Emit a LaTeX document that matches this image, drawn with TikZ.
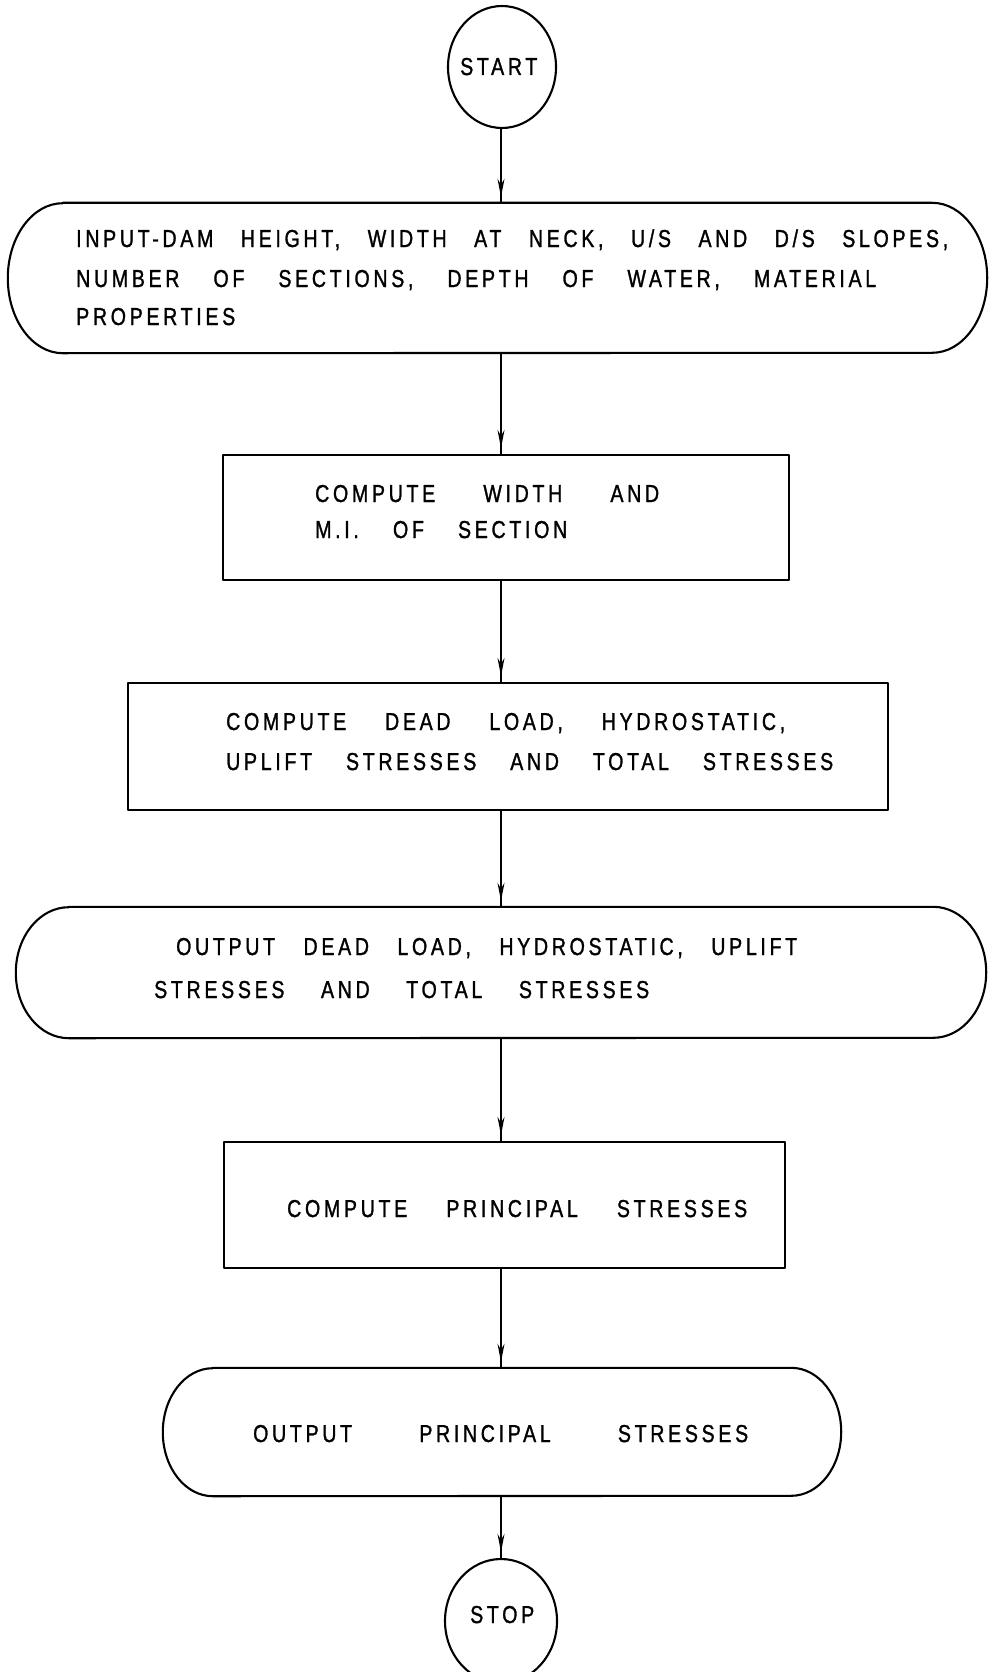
\documentclass[tikz,border=0pt]{standalone}
\usepackage{fontspec}
\setmainfont{Liberation Sans}[FakeStretch=0.8, LetterSpace=15, FakeBold=1.2]
\usetikzlibrary{shapes.geometric, arrows.meta, decorations.markings}
\newcommand\termoutline[3]{%
  \draw[outline] ([xshift=#2]#1.north west) -- ([xshift=-#2]#1.north east)
    arc[start angle=90, end angle=-90, x radius=#2, y radius=#3]
    -- ([xshift=#2]#1.south west)
    arc[start angle=270, end angle=90, x radius=#2, y radius=#3] -- cycle;}
\begin{document}
\begin{tikzpicture}[x=1pt, y=-1pt,
  lbl/.style={font=\fontsize{24.5pt}{28pt}\selectfont, inner sep=0pt, anchor=base west},
  outline/.style={line width=2.1pt, line join=round},
  flow/.style={line width=1.7pt, postaction={decorate},
    decoration={markings, mark=at position -6pt with {\arrow{Stealth[length=18pt, width=7pt]}}}},
  term/.style={draw=none, rectangle, inner sep=0pt},
  procbox/.style={draw, rectangle, outline, inner sep=0pt},
  oval/.style={draw, ellipse, outline, inner sep=0pt}]
\useasboundingbox[fill=white] (0,0) rectangle (988,1672);
\coordinate (axis) at (501,0);

% shapes
\node[oval, minimum width=108pt, minimum height=122pt] (s) at (502,67) {};
\node[term, minimum width=979pt, minimum height=150pt] (in) at (497.5,278) {};
\termoutline{in}{55pt}{75pt}
\node[procbox, minimum width=566pt, minimum height=125pt] (c1) at (506,517.5) {};
\node[procbox, minimum width=760pt, minimum height=127pt] (c2) at (508,746.5) {};
\node[term, minimum width=970pt, minimum height=131pt] (o1) at (501,972.5) {};
\termoutline{o1}{53pt}{65.5pt}
\node[procbox, minimum width=561pt, minimum height=126pt] (c3) at (504.5,1205) {};
\node[term, minimum width=678pt, minimum height=128pt] (o2) at (502,1432) {};
\termoutline{o2}{50pt}{64pt}
\node[oval, minimum width=112pt, minimum height=124pt] (e) at (501,1621) {};

% texts
\node[lbl] (s-t) at (460,75) {START};
\node[lbl] (in-t1) at (76,247) {\makebox[872pt][s]{INPUT-DAM HEIGHT, WIDTH AT NECK, U/S AND D/S SLOPES,}};
\node[lbl] (in-t2) at (76,287) {\makebox[800pt][s]{NUMBER OF SECTIONS, DEPTH OF WATER, MATERIAL}};
\node[lbl] (in-t3) at (76,325) {PROPERTIES};
\node[lbl] (c1-t1) at (315,502) {\makebox[344pt][s]{COMPUTE WIDTH AND}};
\node[lbl] (c1-t2) at (315,538) {\makebox[252pt][s]{M.I. OF SECTION}};
\node[lbl] (c2-t1) at (226,730) {\makebox[559pt][s]{COMPUTE DEAD LOAD, HYDROSTATIC,}};
\node[lbl] (c2-t2) at (226,770) {\makebox[607pt][s]{UPLIFT STRESSES AND TOTAL STRESSES}};
\node[lbl] (o1-t1) at (176,955) {\makebox[621pt][s]{OUTPUT DEAD LOAD, HYDROSTATIC, UPLIFT}};
\node[lbl] (o1-t2) at (154,998) {\makebox[495pt][s]{STRESSES AND TOTAL STRESSES}};
\node[lbl] (c3-t) at (287,1217) {\makebox[460pt][s]{COMPUTE PRINCIPAL STRESSES}};
\node[lbl] (o2-t) at (253,1442) {\makebox[495pt][s]{OUTPUT PRINCIPAL STRESSES}};
\node[lbl] (e-t) at (470,1623) {STOP};

% connectors
\draw[flow] (s.south -| axis) -- (in.north -| axis);
\draw[flow] (in.south -| axis) -- (c1.north -| axis);
\draw[flow] (c1.south -| axis) -- (c2.north -| axis);
\draw[flow] (c2.south -| axis) -- (o1.north -| axis);
\draw[flow] (o1.south -| axis) -- (c3.north -| axis);
\draw[flow] (c3.south -| axis) -- (o2.north -| axis);
\draw[flow] (o2.south -| axis) -- (e.north -| axis);
\end{tikzpicture}
\end{document}
